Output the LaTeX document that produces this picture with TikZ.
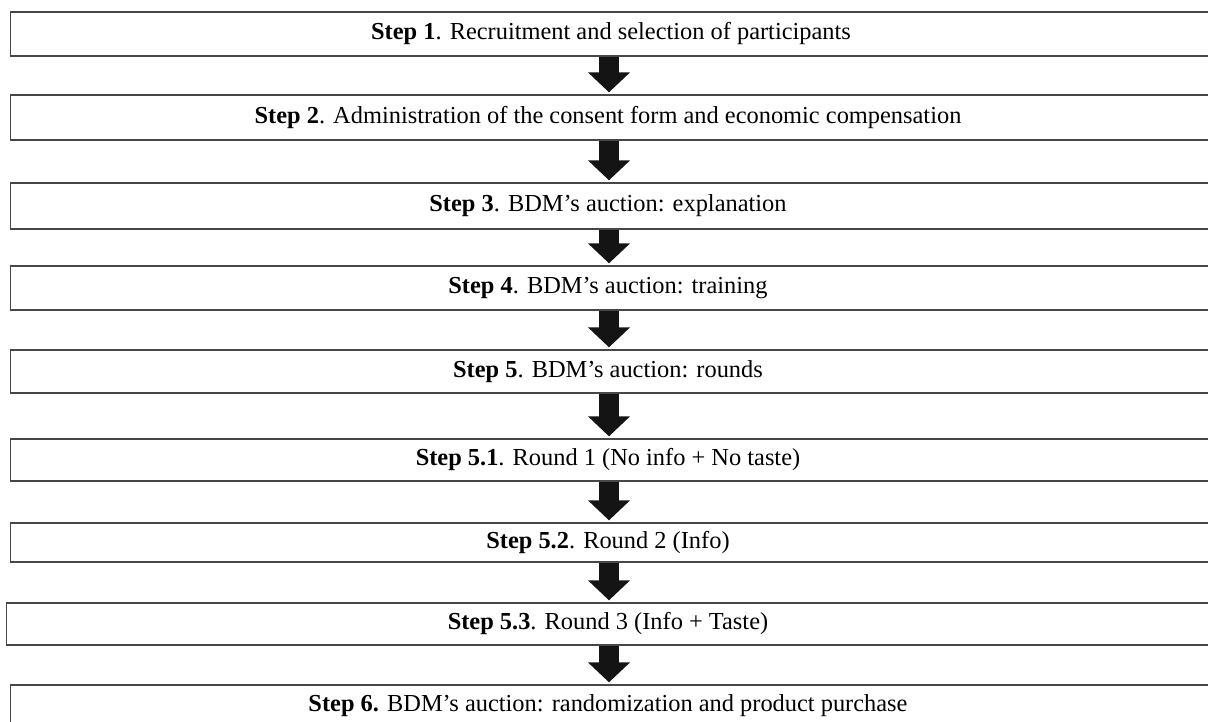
\documentclass[tikz,border=0pt]{standalone}
\usepackage{fontspec}
\setmainfont{Liberation Serif}
\usetikzlibrary{arrows.meta}
\tikzset{
  stepbox/.style={draw=black!72, line width=1.3pt, minimum width=1206pt, inner sep=0pt, anchor=west},
  steptext/.style={font=\fontsize{24.4}{28}\selectfont, inner sep=0pt},
  bigarrow/.style={line width=20pt, black!92, -{Triangle[width=41pt,length=20pt]}, shorten >=2pt}
}
\begin{document}
\begin{tikzpicture}[x=1pt,y=1pt]
\useasboundingbox[fill=white] (0,0) rectangle (1208,722);
% boxes
\node[stepbox, minimum height=44pt] (b1) at (10,688) {};
\node[stepbox, minimum height=45pt] (b2) at (10,604.5) {};
\node[stepbox, minimum height=46pt] (b3) at (10,516) {};
\node[stepbox, minimum height=44pt] (b4) at (10,434) {};
\node[stepbox, minimum height=43pt] (b5) at (10,350.5) {};
\node[stepbox, minimum height=42pt] (b51) at (10,262) {};
\node[stepbox, minimum height=39pt] (b52) at (10,179.5) {};
\node[stepbox, minimum height=42pt] (b53) at (6,98) {};
\node[stepbox, minimum height=42pt] (b6) at (10,16) {};
% texts
\node[steptext] (t1) at (611,688) {\textbf{Step 1}. Recruitment and selection of participants};
\node[steptext] (t2) at (608,604.5) {\textbf{Step 2}. Administration of the consent form and economic compensation};
\node[steptext] (t3) at (608,516) {\textbf{Step 3}. BDM’s auction: explanation};
\node[steptext] (t4) at (608,434) {\textbf{Step 4}. BDM’s auction: training};
\node[steptext] (t5) at (608,350.5) {\textbf{Step 5}. BDM’s auction: rounds};
\node[steptext] (t51) at (608,262) {\textbf{Step 5.1}. Round 1 (No info + No taste)};
\node[steptext] (t52) at (608,179.5) {\textbf{Step 5.2}. Round 2 (Info)};
\node[steptext] (t53) at (608,98) {\textbf{Step 5.3}. Round 3 (Info + Taste)};
\node[steptext] (t6) at (608,16) {\textbf{Step 6.} BDM’s auction: randomization and product purchase};
% arrows
\foreach \a/\b in {b1/b2,b2/b3,b3/b4,b4/b5,b5/b51,b51/b52,b52/b53,b53/b6}{
  \draw[bigarrow] (\a.south -| 609,0) -- (\b.north -| 609,0);
}
\end{tikzpicture}
\end{document}
